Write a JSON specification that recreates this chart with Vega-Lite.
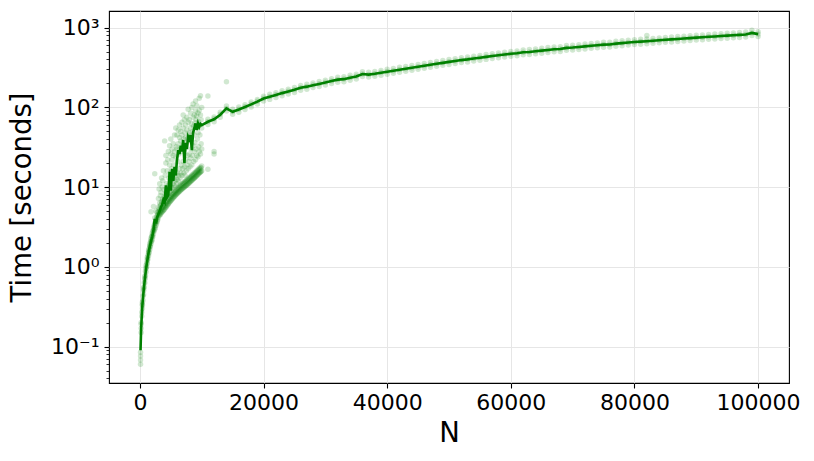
{
"$schema": "https://vega.github.io/schema/vega-lite/v6.json",
"width": 680, "height": 372,
"autosize": {"type": "none"},
"padding": {"left": 109, "top": 11, "right": 25, "bottom": 78},
"background": "white",
"config": {
  "font": "DejaVu Sans",
  "view": {"stroke": "black", "strokeWidth": 1.1},
  "axis": {"domain": false, "tickColor": "black", "tickWidth": 1.1, "labelColor": "black", "titleColor": "black", "labelFontSize": 22, "titleFontSize": 27.5, "titleFontWeight": "normal", "gridColor": "#e6e6e6", "gridWidth": 1}
},
"datasets": {
"pts": [
{"N":100,"t":0.06},{"N":100,"t":0.068},{"N":100,"t":0.076},{"N":100,"t":0.085},
{"N":200,"t":0.15},{"N":200,"t":0.17},{"N":200,"t":0.19},{"N":200,"t":0.2},
{"N":300,"t":0.24},{"N":300,"t":0.27},
{"N":400,"t":0.3},{"N":400,"t":0.33},{"N":400,"t":0.36},{"N":400,"t":0.34},
{"N":500,"t":0.38},{"N":500,"t":0.43},
{"N":600,"t":0.45},{"N":600,"t":0.5},{"N":600,"t":0.55},{"N":600,"t":0.52},
{"N":700,"t":0.56},{"N":700,"t":0.63},
{"N":800,"t":0.63},{"N":800,"t":0.7},{"N":800,"t":0.76},{"N":800,"t":0.72},
{"N":900,"t":0.78},{"N":900,"t":0.88},
{"N":1000,"t":0.86},{"N":1000,"t":0.95},{"N":1000,"t":1.05},{"N":1000,"t":0.98},
{"N":1100,"t":1.0},{"N":1100,"t":1.12},
{"N":1200,"t":1.1},{"N":1200,"t":1.2},{"N":1200,"t":1.32},{"N":1200,"t":1.25},
{"N":1300,"t":1.25},{"N":1300,"t":1.4},
{"N":1400,"t":1.38},{"N":1400,"t":1.5},{"N":1400,"t":1.62},{"N":1400,"t":1.55},
{"N":1500,"t":1.5},{"N":1500,"t":1.7},
{"N":1600,"t":1.65},{"N":1600,"t":1.8},{"N":1600,"t":1.95},{"N":1600,"t":1.85},
{"N":1700,"t":1.8},{"N":1700,"t":2.05},
{"N":1800,"t":1.95},{"N":1800,"t":2.1},{"N":1800,"t":2.3},{"N":1800,"t":2.2},{"N":1800,"t":4.9},
{"N":1900,"t":2.1},{"N":1900,"t":2.4},
{"N":2000,"t":2.2},{"N":2000,"t":2.4},{"N":2000,"t":2.65},{"N":2000,"t":2.5},
{"N":2100,"t":2.4},{"N":2100,"t":2.8},
{"N":2200,"t":2.6},{"N":2200,"t":2.85},{"N":2200,"t":3.1},{"N":2200,"t":2.95},{"N":2200,"t":5.7},
{"N":2300,"t":2.8},{"N":2300,"t":3.3},
{"N":2400,"t":2.95},{"N":2400,"t":3.2},{"N":2400,"t":3.5},{"N":2400,"t":4.1},{"N":2400,"t":14.7},
{"N":2500,"t":3.1},{"N":2500,"t":3.6},
{"N":2600,"t":3.3},{"N":2600,"t":3.6},{"N":2600,"t":3.9},{"N":2600,"t":5.0},
{"N":2700,"t":3.5},{"N":2700,"t":4.2},
{"N":2800,"t":3.7},{"N":2800,"t":4.0},{"N":2800,"t":4.4},{"N":2800,"t":4.8},
{"N":2900,"t":3.9},{"N":2900,"t":4.5},
{"N":3000,"t":4.2},{"N":3000,"t":4.9},{"N":3000,"t":5.6},{"N":3000,"t":7.2},
{"N":3100,"t":4.4},{"N":3100,"t":4.7},{"N":3100,"t":5.3},{"N":3100,"t":9.5},
{"N":3200,"t":4.5},{"N":3200,"t":5.1},{"N":3200,"t":6.3},{"N":3200,"t":11},
{"N":3300,"t":4.5},{"N":3300,"t":4.9},{"N":3300,"t":5.8},{"N":3300,"t":7.8},
{"N":3400,"t":4.7},{"N":3400,"t":5.4},{"N":3400,"t":6.0},{"N":3400,"t":8.6},
{"N":3500,"t":4.8},{"N":3500,"t":5.2},{"N":3500,"t":6.6},{"N":3500,"t":13},
{"N":3600,"t":4.9},{"N":3600,"t":5.6},{"N":3600,"t":6.4},{"N":3600,"t":10},
{"N":3700,"t":5.0},{"N":3700,"t":5.5},{"N":3700,"t":7.1},{"N":3700,"t":12},
{"N":3800,"t":5.1},{"N":3800,"t":5.9},{"N":3800,"t":6.8},{"N":3800,"t":16},
{"N":3900,"t":5.2},{"N":3900,"t":5.7},{"N":3900,"t":7.6},{"N":3900,"t":9.3},
{"N":4000,"t":5.3},{"N":4000,"t":6.2},{"N":4000,"t":7.0},{"N":4000,"t":38},
{"N":4100,"t":5.5},{"N":4100,"t":5.9},{"N":4100,"t":8.2},{"N":4100,"t":14},
{"N":4200,"t":5.6},{"N":4200,"t":6.5},{"N":4200,"t":7.6},{"N":4200,"t":20},{"N":4200,"t":25},
{"N":4300,"t":5.7},{"N":4300,"t":6.3},{"N":4300,"t":8.8},{"N":4300,"t":11},
{"N":4400,"t":5.9},{"N":4400,"t":6.8},{"N":4400,"t":9.6},{"N":4400,"t":16},
{"N":4500,"t":6.0},{"N":4500,"t":6.6},{"N":4500,"t":8.1},{"N":4500,"t":22},
{"N":4600,"t":6.2},{"N":4600,"t":7.2},{"N":4600,"t":10.5},{"N":4600,"t":28},
{"N":4700,"t":6.3},{"N":4700,"t":7.0},{"N":4700,"t":8.6},{"N":4700,"t":13},
{"N":4800,"t":6.5},{"N":4800,"t":7.5},{"N":4800,"t":9.4},{"N":4800,"t":19},{"N":4800,"t":33},
{"N":4900,"t":6.6},{"N":4900,"t":7.3},{"N":4900,"t":11.5},{"N":4900,"t":15},
{"N":5000,"t":6.8},{"N":5000,"t":7.8},{"N":5000,"t":9.0},{"N":5000,"t":26},{"N":5000,"t":40},
{"N":5100,"t":6.9},{"N":5100,"t":7.6},{"N":5100,"t":10},{"N":5100,"t":17},
{"N":5200,"t":7.1},{"N":5200,"t":8.2},{"N":5200,"t":12.5},{"N":5200,"t":22},{"N":5200,"t":30},
{"N":5300,"t":7.2},{"N":5300,"t":8.0},{"N":5300,"t":9.8},{"N":5300,"t":14},
{"N":5400,"t":7.4},{"N":5400,"t":8.5},{"N":5400,"t":11},{"N":5400,"t":25},{"N":5400,"t":35},
{"N":5500,"t":7.5},{"N":5500,"t":8.3},{"N":5500,"t":13},{"N":5500,"t":19},
{"N":5600,"t":7.7},{"N":5600,"t":8.9},{"N":5600,"t":10.5},{"N":5600,"t":28},{"N":5600,"t":45},
{"N":5700,"t":7.8},{"N":5700,"t":8.6},{"N":5700,"t":12},{"N":5700,"t":16},
{"N":5800,"t":8.0},{"N":5800,"t":9.2},{"N":5800,"t":14},{"N":5800,"t":24},{"N":5800,"t":55},
{"N":5900,"t":8.1},{"N":5900,"t":9.0},{"N":5900,"t":11},{"N":5900,"t":32},
{"N":6000,"t":8.3},{"N":6000,"t":9.6},{"N":6000,"t":12.5},{"N":6000,"t":30},{"N":6000,"t":45},
{"N":6100,"t":8.4},{"N":6100,"t":9.3},{"N":6100,"t":15},{"N":6100,"t":21},
{"N":6200,"t":8.6},{"N":6200,"t":9.9},{"N":6200,"t":12},{"N":6200,"t":35},{"N":6200,"t":52},
{"N":6300,"t":8.7},{"N":6300,"t":9.7},{"N":6300,"t":14},{"N":6300,"t":26},
{"N":6400,"t":8.9},{"N":6400,"t":10.3},{"N":6400,"t":17},{"N":6400,"t":42},{"N":6400,"t":60},
{"N":6500,"t":9.0},{"N":6500,"t":10.0},{"N":6500,"t":13},{"N":6500,"t":30},
{"N":6600,"t":9.2},{"N":6600,"t":10.6},{"N":6600,"t":15},{"N":6600,"t":38},{"N":6600,"t":50},
{"N":6700,"t":9.3},{"N":6700,"t":10.4},{"N":6700,"t":19},{"N":6700,"t":28},
{"N":6800,"t":9.5},{"N":6800,"t":11},{"N":6800,"t":14},{"N":6800,"t":45},{"N":6800,"t":65},
{"N":6900,"t":9.6},{"N":6900,"t":10.7},{"N":6900,"t":17},{"N":6900,"t":33},
{"N":7000,"t":9.8},{"N":7000,"t":11.3},{"N":7000,"t":21},{"N":7000,"t":55},{"N":7000,"t":80},
{"N":7100,"t":9.9},{"N":7100,"t":11.1},{"N":7100,"t":15},{"N":7100,"t":40},
{"N":7200,"t":10.1},{"N":7200,"t":11.7},{"N":7200,"t":18},{"N":7200,"t":30},{"N":7200,"t":70},
{"N":7300,"t":10.2},{"N":7300,"t":11.4},{"N":7300,"t":14},{"N":7300,"t":48},
{"N":7400,"t":10.4},{"N":7400,"t":12},{"N":7400,"t":22},{"N":7400,"t":42},{"N":7400,"t":60},
{"N":7500,"t":10.5},{"N":7500,"t":11.8},{"N":7500,"t":16},{"N":7500,"t":36},
{"N":7600,"t":10.7},{"N":7600,"t":12.4},{"N":7600,"t":19},{"N":7600,"t":52},{"N":7600,"t":75},
{"N":7700,"t":10.8},{"N":7700,"t":12.1},{"N":7700,"t":25},{"N":7700,"t":40},
{"N":7800,"t":11.0},{"N":7800,"t":12.8},{"N":7800,"t":17},{"N":7800,"t":65},{"N":7800,"t":95},
{"N":7900,"t":11.2},{"N":7900,"t":12.5},{"N":7900,"t":21},{"N":7900,"t":45},
{"N":8000,"t":11.4},{"N":8000,"t":13.2},{"N":8000,"t":26},{"N":8000,"t":48},{"N":8000,"t":70},
{"N":8100,"t":11.6},{"N":8100,"t":12.9},{"N":8100,"t":18},{"N":8100,"t":38},
{"N":8200,"t":11.8},{"N":8200,"t":13.6},{"N":8200,"t":23},{"N":8200,"t":55},{"N":8200,"t":85},
{"N":8300,"t":12.0},{"N":8300,"t":13.3},{"N":8300,"t":30},{"N":8300,"t":42},
{"N":8400,"t":12.2},{"N":8400,"t":14.1},{"N":8400,"t":19},{"N":8400,"t":62},{"N":8400,"t":100},
{"N":8500,"t":12.4},{"N":8500,"t":13.8},{"N":8500,"t":25},{"N":8500,"t":50},
{"N":8600,"t":12.6},{"N":8600,"t":14.5},{"N":8600,"t":33},{"N":8600,"t":75},{"N":8600,"t":110},
{"N":8700,"t":12.8},{"N":8700,"t":14.2},{"N":8700,"t":21},{"N":8700,"t":58},
{"N":8800,"t":13.0},{"N":8800,"t":15},{"N":8800,"t":28},{"N":8800,"t":80},{"N":8800,"t":45},
{"N":8900,"t":13.2},{"N":8900,"t":14.7},{"N":8900,"t":36},{"N":8900,"t":64},
{"N":9000,"t":13.5},{"N":9000,"t":15.5},{"N":9000,"t":22},{"N":9000,"t":90},{"N":9000,"t":120},
{"N":9100,"t":13.7},{"N":9100,"t":15.2},{"N":9100,"t":30},{"N":9100,"t":70},
{"N":9200,"t":14},{"N":9200,"t":16},{"N":9200,"t":25},{"N":9200,"t":78},{"N":9200,"t":105},
{"N":9300,"t":14.2},{"N":9300,"t":15.8},{"N":9300,"t":40},{"N":9300,"t":56},
{"N":9400,"t":14.5},{"N":9400,"t":16.6},{"N":9400,"t":24},{"N":9400,"t":85},{"N":9400,"t":48},
{"N":9500,"t":14.7},{"N":9500,"t":16.3},{"N":9500,"t":32},{"N":9500,"t":66},
{"N":9600,"t":15},{"N":9600,"t":17.2},{"N":9600,"t":28},{"N":9600,"t":92},{"N":9600,"t":130},
{"N":9700,"t":15.2},{"N":9700,"t":16.9},{"N":9700,"t":45},{"N":9700,"t":60},
{"N":9800,"t":15.5},{"N":9800,"t":17.8},{"N":9800,"t":26},{"N":9800,"t":80},{"N":9800,"t":140},
{"N":9900,"t":15.7},{"N":9900,"t":17.4},{"N":9900,"t":35},{"N":9900,"t":70},
{"N":10000,"t":16},{"N":10000,"t":18.4},{"N":10000,"t":30},{"N":10000,"t":55},{"N":10000,"t":100},
{"N":11000,"t":61},{"N":11000,"t":66},{"N":11000,"t":71},{"N":11000,"t":16.7},{"N":11000,"t":139},
{"N":12000,"t":66},{"N":12000,"t":72},{"N":12000,"t":76},{"N":12000,"t":28},{"N":12000,"t":26},
{"N":13000,"t":75},{"N":13000,"t":82},{"N":13000,"t":87},
{"N":14000,"t":90},{"N":14000,"t":97},{"N":14000,"t":104},{"N":14000,"t":210},
{"N":15000,"t":82},{"N":15000,"t":89},{"N":15000,"t":95},
{"N":16000,"t":87},{"N":16000,"t":95},{"N":16000,"t":101},
{"N":17000,"t":94},{"N":17000,"t":102},{"N":17000,"t":108},
{"N":18000,"t":101},{"N":18000,"t":110},{"N":18000,"t":117},
{"N":19000,"t":110},{"N":19000,"t":119},{"N":19000,"t":126},
{"N":20000,"t":120},{"N":20000,"t":130},{"N":20000,"t":138},
{"N":21000,"t":126},{"N":21000,"t":137},{"N":21000,"t":146},
{"N":22000,"t":133},{"N":22000,"t":144},{"N":22000,"t":153},
{"N":23000,"t":140},{"N":23000,"t":152},{"N":23000,"t":162},
{"N":24000,"t":147},{"N":24000,"t":159},{"N":24000,"t":169},
{"N":25000,"t":154},{"N":25000,"t":167},{"N":25000,"t":178},
{"N":26000,"t":164},{"N":26000,"t":177},{"N":26000,"t":188},
{"N":27000,"t":169},{"N":27000,"t":183},{"N":27000,"t":195},
{"N":28000,"t":177},{"N":28000,"t":191},{"N":28000,"t":203},
{"N":29000,"t":183},{"N":29000,"t":198},{"N":29000,"t":211},
{"N":30000,"t":191},{"N":30000,"t":206},{"N":30000,"t":219},
{"N":31000,"t":199},{"N":31000,"t":215},{"N":31000,"t":229},
{"N":32000,"t":207},{"N":32000,"t":224},{"N":32000,"t":239},
{"N":33000,"t":210},{"N":33000,"t":227},{"N":33000,"t":242},
{"N":34000,"t":219},{"N":34000,"t":237},{"N":34000,"t":253},
{"N":35000,"t":227},{"N":35000,"t":245},{"N":35000,"t":261},
{"N":36000,"t":244},{"N":36000,"t":263},{"N":36000,"t":280},
{"N":37000,"t":240},{"N":37000,"t":259},{"N":37000,"t":276},
{"N":38000,"t":246},{"N":38000,"t":265},{"N":38000,"t":282},
{"N":39000,"t":253},{"N":39000,"t":273},{"N":39000,"t":291},
{"N":40000,"t":260},{"N":40000,"t":281},{"N":40000,"t":300},
{"N":41000,"t":268},{"N":41000,"t":289},{"N":41000,"t":308},
{"N":42000,"t":276},{"N":42000,"t":298},{"N":42000,"t":318},
{"N":43000,"t":284},{"N":43000,"t":306},{"N":43000,"t":326},
{"N":44000,"t":292},{"N":44000,"t":315},{"N":44000,"t":336},
{"N":45000,"t":300},{"N":45000,"t":324},{"N":45000,"t":346},
{"N":46000,"t":310},{"N":46000,"t":334},{"N":46000,"t":356},
{"N":47000,"t":318},{"N":47000,"t":343},{"N":47000,"t":366},
{"N":48000,"t":327},{"N":48000,"t":353},{"N":48000,"t":377},
{"N":49000,"t":337},{"N":49000,"t":363},{"N":49000,"t":387},
{"N":50000,"t":346},{"N":50000,"t":373},{"N":50000,"t":398},
{"N":51000,"t":355},{"N":51000,"t":383},{"N":51000,"t":409},
{"N":52000,"t":365},{"N":52000,"t":393},{"N":52000,"t":419},
{"N":53000,"t":372},{"N":53000,"t":401},{"N":53000,"t":428},
{"N":54000,"t":381},{"N":54000,"t":411},{"N":54000,"t":439},
{"N":55000,"t":391},{"N":55000,"t":421},{"N":55000,"t":449},
{"N":56000,"t":400},{"N":56000,"t":431},{"N":56000,"t":460},
{"N":57000,"t":409},{"N":57000,"t":441},{"N":57000,"t":471},
{"N":58000,"t":419},{"N":58000,"t":451},{"N":58000,"t":482},
{"N":59000,"t":428},{"N":59000,"t":461},{"N":59000,"t":492},
{"N":60000,"t":437},{"N":60000,"t":471},{"N":60000,"t":503},
{"N":61000,"t":445},{"N":61000,"t":479},{"N":61000,"t":511},
{"N":62000,"t":458},{"N":62000,"t":493},{"N":62000,"t":526},
{"N":63000,"t":461},{"N":63000,"t":497},{"N":63000,"t":531},
{"N":64000,"t":470},{"N":64000,"t":506},{"N":64000,"t":540},
{"N":65000,"t":479},{"N":65000,"t":516},{"N":65000,"t":551},
{"N":66000,"t":488},{"N":66000,"t":526},{"N":66000,"t":562},
{"N":67000,"t":498},{"N":67000,"t":536},{"N":67000,"t":572},
{"N":68000,"t":502},{"N":68000,"t":541},{"N":68000,"t":578},
{"N":69000,"t":519},{"N":69000,"t":559},{"N":69000,"t":597},
{"N":70000,"t":524},{"N":70000,"t":564},{"N":70000,"t":602},
{"N":71000,"t":532},{"N":71000,"t":573},{"N":71000,"t":612},
{"N":72000,"t":541},{"N":72000,"t":583},{"N":72000,"t":623},
{"N":73000,"t":551},{"N":73000,"t":593},{"N":73000,"t":633},
{"N":74000,"t":560},{"N":74000,"t":603},{"N":74000,"t":644},
{"N":75000,"t":569},{"N":75000,"t":613},{"N":75000,"t":655},
{"N":76000,"t":572},{"N":76000,"t":616},{"N":76000,"t":658},
{"N":77000,"t":586},{"N":77000,"t":631},{"N":77000,"t":674},
{"N":78000,"t":595},{"N":78000,"t":641},{"N":78000,"t":685},
{"N":79000,"t":605},{"N":79000,"t":651},{"N":79000,"t":696},
{"N":80000,"t":614},{"N":80000,"t":661},{"N":80000,"t":706},
{"N":81000,"t":621},{"N":81000,"t":669},{"N":81000,"t":715},
{"N":82000,"t":629},{"N":82000,"t":677},{"N":82000,"t":723},{"N":82000,"t":800},
{"N":83000,"t":638},{"N":83000,"t":687},{"N":83000,"t":734},
{"N":84000,"t":645},{"N":84000,"t":695},{"N":84000,"t":743},
{"N":85000,"t":655},{"N":85000,"t":705},{"N":85000,"t":753},
{"N":86000,"t":662},{"N":86000,"t":713},{"N":86000,"t":762},
{"N":87000,"t":671},{"N":87000,"t":723},{"N":87000,"t":773},
{"N":88000,"t":679},{"N":88000,"t":731},{"N":88000,"t":781},
{"N":89000,"t":688},{"N":89000,"t":741},{"N":89000,"t":792},
{"N":90000,"t":698},{"N":90000,"t":751},{"N":90000,"t":803},
{"N":91000,"t":705},{"N":91000,"t":759},{"N":91000,"t":811},
{"N":92000,"t":714},{"N":92000,"t":769},{"N":92000,"t":822},
{"N":93000,"t":722},{"N":93000,"t":777},{"N":93000,"t":830},
{"N":94000,"t":731},{"N":94000,"t":787},{"N":94000,"t":841},
{"N":95000,"t":738},{"N":95000,"t":795},{"N":95000,"t":850},
{"N":96000,"t":748},{"N":96000,"t":805},{"N":96000,"t":860},
{"N":97000,"t":755},{"N":97000,"t":813},{"N":97000,"t":869},
{"N":98000,"t":764},{"N":98000,"t":823},{"N":98000,"t":880},
{"N":99000,"t":800},{"N":99000,"t":860},{"N":99000,"t":930},
{"N":100000,"t":772},{"N":100000,"t":831},{"N":100000,"t":888}
],
"line": [
{"N":100,"t":0.09},{"N":200,"t":0.17},{"N":400,"t":0.33},{"N":600,"t":0.5},{"N":800,"t":0.7},
{"N":1000,"t":0.95},{"N":1200,"t":1.2},{"N":1400,"t":1.5},{"N":1600,"t":1.8},{"N":1800,"t":2.1},
{"N":2000,"t":2.4},{"N":2200,"t":2.9},{"N":2400,"t":4.0},{"N":2600,"t":3.5},{"N":2800,"t":4.2},
{"N":3000,"t":4.6},{"N":3200,"t":5.0},{"N":3400,"t":5.6},{"N":3600,"t":6.0},{"N":3800,"t":6.9},
{"N":4000,"t":6.5},{"N":4200,"t":10.5},{"N":4400,"t":7.5},{"N":4600,"t":8.0},{"N":4800,"t":15.5},
{"N":5000,"t":9.0},{"N":5200,"t":17},{"N":5400,"t":12},{"N":5600,"t":18},{"N":5800,"t":14},
{"N":6000,"t":22},{"N":6200,"t":29},{"N":6400,"t":26},{"N":6600,"t":33},{"N":6800,"t":28},
{"N":7000,"t":39},{"N":7200,"t":20},{"N":7400,"t":36},{"N":7600,"t":30},{"N":7800,"t":43},
{"N":8000,"t":40},{"N":8200,"t":45},{"N":8400,"t":29},{"N":8600,"t":48},{"N":8800,"t":55},
{"N":9000,"t":63},{"N":9200,"t":52},{"N":9400,"t":63},{"N":9600,"t":57},{"N":9800,"t":62},
{"N":10000,"t":60},{"N":11000,"t":66},{"N":12000,"t":71},{"N":13000,"t":81},{"N":14000,"t":97},
{"N":15000,"t":88},{"N":16000,"t":94},{"N":17000,"t":101},{"N":18000,"t":109},{"N":19000,"t":118},
{"N":20000,"t":129},{"N":21000,"t":136},{"N":22000,"t":143},{"N":23000,"t":151},{"N":24000,"t":158},
{"N":25000,"t":166},{"N":26000,"t":176},{"N":27000,"t":182},{"N":28000,"t":190},{"N":29000,"t":197},
{"N":30000,"t":205},{"N":31000,"t":214},{"N":32000,"t":223},{"N":33000,"t":226},{"N":34000,"t":236},
{"N":35000,"t":244},{"N":36000,"t":262},{"N":37000,"t":258},{"N":38000,"t":264},{"N":39000,"t":272},
{"N":40000,"t":280},{"N":41000,"t":288},{"N":42000,"t":297},{"N":43000,"t":305},{"N":44000,"t":314},
{"N":45000,"t":323},{"N":46000,"t":333},{"N":47000,"t":342},{"N":48000,"t":352},{"N":49000,"t":362},
{"N":50000,"t":372},{"N":51000,"t":382},{"N":52000,"t":392},{"N":53000,"t":400},{"N":54000,"t":410},
{"N":55000,"t":420},{"N":56000,"t":430},{"N":57000,"t":440},{"N":58000,"t":450},{"N":59000,"t":460},
{"N":60000,"t":470},{"N":61000,"t":478},{"N":62000,"t":492},{"N":63000,"t":496},{"N":64000,"t":505},
{"N":65000,"t":515},{"N":66000,"t":525},{"N":67000,"t":535},{"N":68000,"t":540},{"N":69000,"t":558},
{"N":70000,"t":563},{"N":71000,"t":572},{"N":72000,"t":582},{"N":73000,"t":592},{"N":74000,"t":602},
{"N":75000,"t":612},{"N":76000,"t":615},{"N":77000,"t":630},{"N":78000,"t":640},{"N":79000,"t":650},
{"N":80000,"t":660},{"N":81000,"t":668},{"N":82000,"t":676},{"N":83000,"t":686},{"N":84000,"t":694},
{"N":85000,"t":704},{"N":86000,"t":712},{"N":87000,"t":722},{"N":88000,"t":730},{"N":89000,"t":740},
{"N":90000,"t":750},{"N":91000,"t":758},{"N":92000,"t":768},{"N":93000,"t":776},{"N":94000,"t":786},
{"N":95000,"t":794},{"N":96000,"t":804},{"N":97000,"t":812},{"N":98000,"t":822},{"N":99000,"t":860},
{"N":100000,"t":830}
]
},
"layer": [
{
  "data": {"name": "pts"},
  "mark": {"type": "circle", "size": 30, "opacity": 0.18, "color": "#008000"},
  "encoding": {
    "x": {"field": "N", "type": "quantitative", "title": "N",
      "scale": {"domain": [-5000, 105000], "nice": false, "zero": false},
      "axis": {"values": [0, 20000, 40000, 60000, 80000, 100000], "format": "d", "tickSize": 5, "labelPadding": 4, "titlePadding": 6, "grid": true, "labelFlush": false}},
    "y": {"field": "t", "type": "quantitative", "title": "Time [seconds]",
      "scale": {"type": "log", "domain": [0.0349, 1618], "nice": false},
      "axis": {"values": [0.1, 1, 10, 100, 1000], "tickSize": 5, "labelPadding": 5, "titlePadding": 14, "grid": true, "orient": "left",
        "labelExpr": "datum.value < 0.5 ? '10⁻¹' : datum.value < 5 ? '10⁰' : datum.value < 50 ? '10¹' : datum.value < 500 ? '10²' : '10³'"}}
  }
},
{
  "data": {"name": "line"},
  "mark": {"type": "line", "color": "#008000", "strokeWidth": 2.6},
  "encoding": {
    "x": {"field": "N", "type": "quantitative"},
    "y": {"field": "t", "type": "quantitative",
      "axis": {"orient": "left", "title": null, "labels": false, "grid": false, "tickSize": 3, "tickWidth": 0.8,
        "values": [0.04,0.05,0.06,0.07,0.08,0.09,0.2,0.3,0.4,0.5,0.6,0.7,0.8,0.9,2,3,4,5,6,7,8,9,20,30,40,50,60,70,80,90,200,300,400,500,600,700,800,900]}}
  }
}
],
"resolve": {"axis": {"y": "independent"}}
}
